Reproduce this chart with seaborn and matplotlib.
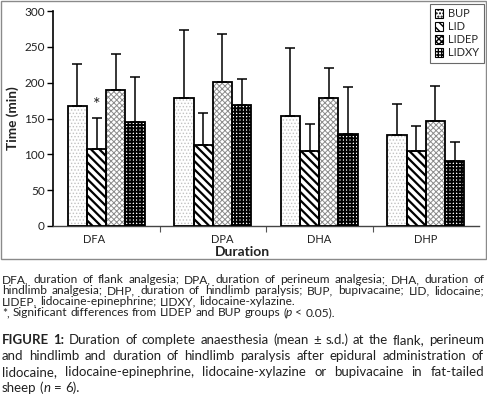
import re
import numpy as np
import pandas as pd
import matplotlib.pyplot as plt
import matplotlib.transforms as mtransforms
from matplotlib.patches import Rectangle, Patch
import seaborn as sns

# data (mean and s.d., minutes)
durations = ['DFA', 'DPA', 'DHA', 'DHP']
groups = ['BUP', 'LID', 'LIDEP', 'LIDXY']
mean_bup = [167, 178, 154, 127]
mean_lid = [108, 113, 104, 104]
mean_lidep = [190, 201, 179, 146]
mean_lidxy = [145, 169, 129, 91]
sd_bup = [59, 95, 95, 43]
sd_lid = [43, 45, 38, 36]
sd_lidep = [50, 67, 41, 49]
sd_lidxy = [63, 36, 65, 26]
yticks = [0, 50, 100, 150, 200, 250, 300]

note_lines = [
    ("DFA, duration of flank analgesia; DPA, duration of perineum analgesia; DHA, duration of", True),
    ("hindlimb analgesia; DHP, duration of hindlimb paralysis; BUP, bupivacaine; LID, lidocaine;", True),
    ("LIDEP, lidocaine-epinephrine; LIDXY, lidocaine-xylazine.", False),
    ("*, Significant differences from LIDEP and BUP groups (<i>p</i> < 0.05).", False),
]
caption_lines = [
    ("<b>FIGURE</b> <b>1:</b> Duration of complete anaesthesia (mean \u00b1 s.d.) at the flank, perineum", True),
    ("and hindlimb and duration of hindlimb paralysis after epidural administration of", True),
    ("lidocaine, lidocaine-epinephrine, lidocaine-xylazine or bupivacaine in fat-tailed", True),
    ("sheep (<i>n</i> = 6).", False),
]

df = pd.DataFrame({
    'Duration': durations * 4,
    'Group': np.repeat(groups, 4),
    'Time': mean_bup + mean_lid + mean_lidep + mean_lidxy,
    'SD': sd_bup + sd_lid + sd_lidep + sd_lidxy,
})

# fill patterns: (hatch, hatch colour, hatch linewidth)
patterns = {
    'BUP': ('.....', '#c2c2c2', 0.6),
    'LID': ('\\\\\\\\', '#000000', 1.6),
    'LIDEP': ('xxxxxx', '#8c8c8c', 0.7),
    'LIDXY': ('+++++', '#000000', 1.4),
}

sns.set_style('ticks')
plt.rcParams['font.family'] = ['Lato', 'DejaVu Sans']

fig = plt.figure(figsize=(4.87, 3.98), dpi=100)
W, H = 487, 398
ax = fig.add_axes([53 / W, 1 - 226 / H, 426 / W, 215 / H])

sns.barplot(data=df, x='Duration', y='Time', hue='Group', order=durations,
            hue_order=groups, palette=['white'] * 4, width=0.72, errorbar=None,
            legend=False, ax=ax)


def style_bar(p, group):
    hatch, hcol, hlw = patterns[group]
    p.set_facecolor('white')
    p.set_edgecolor(hcol)
    p.set_linewidth(0)
    p.set_hatch(hatch)
    if hasattr(p, 'set_hatch_linewidth'):
        p.set_hatch_linewidth(hlw)


for cont, g in zip(ax.containers, groups):
    sub = df[df['Group'] == g].set_index('Duration').loc[durations]
    xs, tops = [], []
    for p in cont.patches:
        style_bar(p, g)
        ax.add_patch(Rectangle((p.get_x(), p.get_y()), p.get_width(), p.get_height(),
                               fill=False, edgecolor='black', linewidth=1.3, zorder=3))
        xs.append(p.get_x() + p.get_width() / 2)
        tops.append(p.get_height())
    ax.errorbar(xs, tops, yerr=[np.zeros(4), sub['SD'].values], fmt='none',
                ecolor='black', elinewidth=1.1, capsize=3.6, capthick=1.1, zorder=4)
    if g == 'LID':
        ax.text(xs[0], tops[0] + sub['SD'].values[0] + 6, '*', ha='center',
                va='bottom', fontsize=13, color='#222222')

ax.set_ylim(0, 300)
ax.set_yticks(yticks)
ax.set_xlim(-0.5, 3.5)
ax.set_xticks(range(4))
ax.set_xticklabels(durations)
ax.set_xticks([0.5, 1.5, 2.5], minor=True)
ax.tick_params(axis='x', which='major', length=0, labelsize=8, pad=6, colors='#222222')
ax.tick_params(axis='x', which='minor', length=4, width=0.8, color='#555555')
ax.tick_params(axis='y', length=4, width=1, labelsize=8.5, pad=2, colors='#222222')
ax.tick_params(axis='y', color='black')
sns.despine(ax=ax)
ax.spines['left'].set_linewidth(1.2)
ax.spines['left'].set_color('black')
ax.spines['bottom'].set_linewidth(1.0)
ax.spines['bottom'].set_color('#444444')

# the first two category labels sit a little off-centre in the original
offsets = [-12, 9, 0, 0]
for lab, dx in zip(ax.get_xticklabels(), offsets):
    lab.set_transform(lab.get_transform() + mtransforms.ScaledTranslation(dx / 100, 0, fig.dpi_scale_trans))

ax.set_ylabel('Time (min)', fontsize=9.8, fontweight='bold', color='#222222')
ax.yaxis.set_label_coords(-0.08, 0.5)
ax.set_xlabel('Duration', fontsize=10, fontweight='bold', color='#222222')
ax.xaxis.set_label_coords((242 - 53) / 426, -0.095)

handles = []
for g in groups:
    hatch, hcol, hlw = patterns[g]
    handles.append(Patch(facecolor='white', edgecolor='black', hatch=hatch, linewidth=0.8))
leg = fig.legend(handles, groups, loc='upper right', bbox_to_anchor=(484 / W, 1 - 4 / H),
                 bbox_transform=fig.transFigure, fontsize=8, frameon=True, fancybox=False,
                 handlelength=0.8, handleheight=0.8, handletextpad=0.45, labelspacing=0.18,
                 borderpad=0.4, borderaxespad=0)
leg.get_frame().set_edgecolor('#444444')
leg.get_frame().set_linewidth(0.8)

# grey frame round the chart area
fig.add_artist(Rectangle((1 / W, 1 - 259 / H), 485 / W, 258 / H, transform=fig.transFigure,
                         fill=False, edgecolor='#8a8a8a', linewidth=1.0))

# caption text, justified like the journal page
fig.canvas.draw()
renderer = fig.canvas.get_renderer()


def font_kw(style, size):
    return dict(fontsize=size, fontweight='bold' if style == 'b' else 'normal',
                fontstyle='italic' if style == 'i' else 'normal', color='#222222')


def text_width(txt, style, size):
    t = fig.text(0, 0, txt, **font_kw(style, size))
    w = t.get_window_extent(renderer).width
    t.remove()
    return w


def parse_word(word):
    out = []
    for c in re.split(r'(<[bi]>.*?</[bi]>)', word):
        if not c:
            continue
        m = re.match(r'<([bi])>(.*?)</[bi]>', c)
        out.append((m.group(2), m.group(1)) if m else (c, ''))
    return out


def natural_width(line, size):
    words = [parse_word(w) for w in line.split(' ')]
    space = text_width('a a', '', size) - text_width('aa', '', size)
    return sum(text_width(t, s, size) for w in words for t, s in w) + space * (len(words) - 1)


def put_line(line, justify, baseline, size, x0=2, x1=484):
    words = [parse_word(w) for w in line.split(' ')]
    widths = [sum(text_width(t, s, size) for t, s in w) for w in words]
    space = text_width('a a', '', size) - text_width('aa', '', size)
    if justify and len(words) > 1:
        space = (x1 - x0 - sum(widths)) / (len(words) - 1)
    x = x0
    for w, ww in zip(words, widths):
        cx = x
        for t, s in w:
            fig.text(cx / W, 1 - baseline / H, t, va='baseline', ha='left', **font_kw(s, size))
            cx += text_width(t, s, size)
        x += ww + space


def fit_size(lines, fill):
    # font size at which the longest justified line nearly fills the width
    widest = max(natural_width(l, 10) for l, j in lines if j)
    return 10 * fill * 482 / widest


small_size = fit_size(note_lines, 0.96)
big_size = fit_size(caption_lines, 0.97)
for i, (line, just) in enumerate(note_lines):
    put_line(line, just, 283 + 11 * i, small_size)
for i, (line, just) in enumerate(caption_lines):
    put_line(line, just, 344 + 16 * i, big_size)

fig.savefig('out.png', dpi=100)
